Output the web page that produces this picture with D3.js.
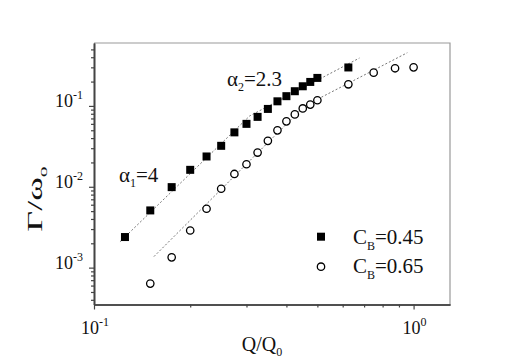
<!DOCTYPE html>
<html>
<head>
<meta charset="utf-8">
<script src="https://cdnjs.cloudflare.com/ajax/libs/d3/7.8.5/d3.min.js"></script>
<style>
  body { margin: 0; background: #fff; }
  svg text { font-family: "Liberation Serif", "Times New Roman", serif; fill: #111; }
</style>
</head>
<body>
<svg id="chart"></svg>
<script>
const W = 518, H = 361, M = {t:43, r:68, b:56.5, l:94};
const innerW = W - M.l - M.r, innerH = H - M.t - M.b;

// C_B = 0.45 (filled squares)
const qSq = [0.125, 0.15, 0.175, 0.2, 0.225, 0.25, 0.275, 0.3, 0.325, 0.35, 0.375, 0.4, 0.425, 0.45, 0.475, 0.5, 0.625];
const gSq = [0.00239, 0.0051, 0.0099, 0.0162, 0.0237, 0.0321, 0.0471, 0.060, 0.0732, 0.0918, 0.114, 0.132, 0.152, 0.175, 0.198, 0.222, 0.299];
// C_B = 0.65 (open circles)
const qCi = [0.15, 0.175, 0.2, 0.225, 0.25, 0.275, 0.3, 0.325, 0.35, 0.375, 0.4, 0.425, 0.45, 0.475, 0.5, 0.625, 0.75, 0.875, 1.0];
const gCi = [0.000635, 0.00134, 0.00288, 0.00535, 0.00945, 0.0144, 0.019, 0.0265, 0.037, 0.0499, 0.0644, 0.0785, 0.0931, 0.1038, 0.1175, 0.185, 0.258, 0.292, 0.30];

// dotted power-law guides (break points)
const fitSq = [[0.1206, 0.00209], [0.307, 0.0752], [0.677, 0.391]];
const fitCi = [[0.154, 0.00137], [0.456, 0.1], [0.956, 0.455]];

const xMajor = [0.1, 1], xMinor = [0.2, 0.3, 0.4, 0.5, 0.6, 0.7, 0.8, 0.9];
const yMajor = [1e-3, 1e-2, 1e-1];
const yMinor = [4e-4, 5e-4, 6e-4, 7e-4, 8e-4, 9e-4, 2e-3, 3e-3, 4e-3, 5e-3, 6e-3, 7e-3, 8e-3, 9e-3,
                0.02, 0.03, 0.04, 0.05, 0.06, 0.07, 0.08, 0.09, 0.2, 0.3, 0.4, 0.5];
const expo = {0.1: "-1", 1: "0", 0.001: "-3", 0.01: "-2"};

const svg = d3.select("#chart").attr("width", W).attr("height", H);
const g = svg.append("g").attr("transform", `translate(${M.l},${M.t})`);

const x = d3.scaleLog().domain([0.1, 1.3]).range([0, innerW]);
const y = d3.scaleLog().domain([3.5e-4, 0.6]).range([innerH, 0]);

// frame (top/right lighter)
g.append("path")
  .attr("d", `M0,0H${innerW}V${innerH}`)
  .attr("fill", "none").attr("stroke", "#999").attr("stroke-width", 1.2);

function styleAxis(a) {
  a.select(".domain").attr("stroke", "#444").attr("stroke-width", 1.6);
  a.selectAll(".tick line").attr("stroke", "#444").attr("stroke-width", 1.2);
  a.selectAll(".tick text").remove();
}

g.append("g").attr("transform", `translate(0,${innerH})`)
  .call(d3.axisBottom(x).tickValues(xMinor).tickSize(3).tickSizeOuter(0))
  .call(styleAxis);
g.append("g").attr("transform", `translate(0,${innerH})`)
  .call(d3.axisBottom(x).tickValues(xMajor).tickSize(5).tickSizeOuter(0))
  .call(styleAxis);
g.append("g")
  .call(d3.axisLeft(y).tickValues(yMinor).tickSize(3).tickSizeOuter(0))
  .call(styleAxis);
g.append("g")
  .call(d3.axisLeft(y).tickValues(yMajor).tickSize(5).tickSizeOuter(0))
  .call(styleAxis);

// power-of-ten tick labels
function powLabel(sel, anchor) {
  sel.attr("text-anchor", anchor).style("font-size", "18px");
  sel.append("tspan").text("10");
  sel.append("tspan").attr("dy", -8).style("font-size", "12px").text(d => expo[d]);
}
g.selectAll(".xl").data(xMajor).join("text")
  .attr("class", "xl")
  .attr("x", d => x(d) + 1)
  .attr("y", innerH + 29)
  .call(powLabel, "middle");
g.selectAll(".yl").data(yMajor).join("text")
  .attr("class", "yl")
  .attr("x", -11)
  .attr("y", d => y(d) + 1)
  .call(powLabel, "end");

// guides
const line = d3.line().x(d => x(d[0])).y(d => y(d[1]));
g.selectAll(".fit").data([fitSq, fitCi]).join("path")
  .attr("class", "fit")
  .attr("d", line)
  .attr("fill", "none")
  .attr("stroke", "#777")
  .attr("stroke-width", 1)
  .attr("stroke-dasharray", "2 2");

// markers
g.selectAll(".sq").data(qSq).join("rect")
  .attr("class", "sq")
  .attr("x", (d, i) => x(d) - 4)
  .attr("y", (d, i) => y(gSq[i]) - 4)
  .attr("width", 8).attr("height", 8)
  .attr("fill", "#000");

g.selectAll(".ci").data(qCi).join("circle")
  .attr("class", "ci")
  .attr("cx", d => x(d))
  .attr("cy", (d, i) => y(gCi[i]))
  .attr("r", 3.7)
  .attr("fill", "#fff")
  .attr("stroke", "#000")
  .attr("stroke-width", 1.3);

// slope annotations
function alpha(sel, sub, val) {
  sel.style("font-size", "21px");
  sel.append("tspan").text("\u03b1");
  sel.append("tspan").attr("dy", 5).style("font-size", "12px").text(sub);
  sel.append("tspan").attr("dy", -5).text("=" + val);
}
svg.append("text").attr("x", 119).attr("y", 182).call(alpha, "1", "4");
svg.append("text").attr("x", 227).attr("y", 86).call(alpha, "2", "2.3");

// legend
const leg = svg.append("g");
leg.append("rect").attr("x", 317).attr("y", 232.7).attr("width", 8).attr("height", 8).attr("fill", "#000");
leg.append("circle").attr("cx", 321).attr("cy", 266.7).attr("r", 3.7)
  .attr("fill", "#fff").attr("stroke", "#000").attr("stroke-width", 1.3);
["0.45", "0.65"].forEach((v, i) => {
  const t = leg.append("text").attr("x", 353).attr("y", 243.5 + i * 29.5).style("font-size", "21px");
  t.append("tspan").text("C");
  t.append("tspan").attr("dy", 6).style("font-size", "12px").text("B");
  t.append("tspan").attr("dy", -6).text("=" + v);
});

// axis titles
const xt = svg.append("text").attr("x", 262).attr("y", 351).attr("text-anchor", "middle").style("font-size", "20px");
xt.append("tspan").text("Q/Q");
xt.append("tspan").attr("dy", 5).style("font-size", "12px").text("0");

// the y title is stretched along its baseline in the original
const yt = svg.append("text").attr("transform", "translate(42,199) rotate(-90) scale(1.8,1)")
  .attr("text-anchor", "middle").style("font-size", "20px");
yt.append("tspan").text("\u0393/\u03c9");
yt.append("tspan").attr("dy", 5).style("font-size", "12px").text("o");
</script>
</body>
</html>
